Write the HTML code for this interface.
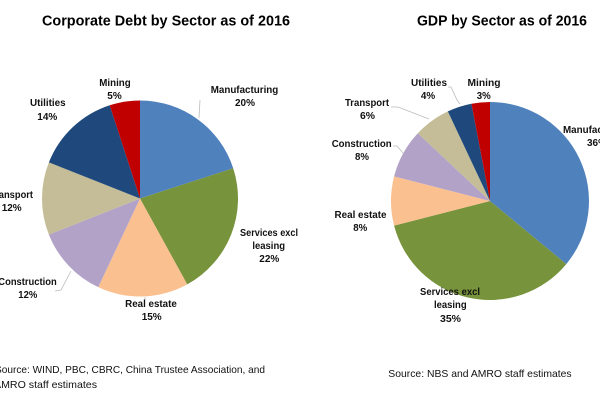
<!DOCTYPE html>
<html><head><meta charset="utf-8"><style>
html,body{margin:0;padding:0;background:#fff;}
svg{display:block;}
text{font-family:"Liberation Sans",Arial,sans-serif;fill:#111;}
.t{font-weight:bold;font-size:14.5px;fill:#000;}
.l{font-weight:bold;font-size:10px;}
.s{font-size:10.5px;}
</style></head><body>
<svg width="600" height="407" viewBox="0 0 600 407" xmlns="http://www.w3.org/2000/svg">
<rect width="600" height="407" fill="#fff"/>
<!-- Titles -->
<text class="t" x="42" y="25.5" textLength="248" lengthAdjust="spacingAndGlyphs">Corporate Debt by Sector as of 2016</text>
<text class="t" x="417" y="25.5" textLength="170" lengthAdjust="spacingAndGlyphs">GDP by Sector as of 2016</text>

<!-- Left pie -->
<g>
<path d="M140,198.5 L140,100.5 A98,98 0 0 1 233.21,168.22 Z" fill="#4F81BD"/>
<path d="M140,198.5 L233.21,168.22 A98,98 0 0 1 187.22,284.38 Z" fill="#77933C"/>
<path d="M140,198.5 L187.22,284.38 A98,98 0 0 1 98.27,287.17 Z" fill="#FAC090"/>
<path d="M140,198.5 L98.27,287.17 A98,98 0 0 1 48.88,234.57 Z" fill="#B3A2C7"/>
<path d="M140,198.5 L48.88,234.57 A98,98 0 0 1 48.88,162.43 Z" fill="#C4BD97"/>
<path d="M140,198.5 L48.88,162.43 A98,98 0 0 1 109.72,105.29 Z" fill="#1F497D"/>
<path d="M140,198.5 L109.72,105.29 A98,98 0 0 1 140,100.5 Z" fill="#C00000"/>
</g>
<polyline points="200,100 199,118" fill="none" stroke="#bbb" stroke-width="0.8"/>
<polyline points="55,291 61,290 71,271" fill="none" stroke="#bbb" stroke-width="0.8"/>
<polyline points="145,297 145,300" fill="none" stroke="#bbb" stroke-width="0.8"/>

<text class="l" x="115" y="86" text-anchor="middle" textLength="31.4" lengthAdjust="spacingAndGlyphs">Mining</text>
<text class="l" x="114.5" y="99" text-anchor="middle" textLength="14.4" lengthAdjust="spacingAndGlyphs">5%</text>
<text class="l" x="244.5" y="93" text-anchor="middle" textLength="67.6" lengthAdjust="spacingAndGlyphs">Manufacturing</text>
<text class="l" x="245" y="106" text-anchor="middle" textLength="20" lengthAdjust="spacingAndGlyphs">20%</text>
<text class="l" x="47.8" y="106" text-anchor="middle" textLength="35.7" lengthAdjust="spacingAndGlyphs">Utilities</text>
<text class="l" x="47.3" y="120" text-anchor="middle" textLength="20" lengthAdjust="spacingAndGlyphs">14%</text>
<text class="l" x="11.5" y="198" text-anchor="middle" textLength="43" lengthAdjust="spacingAndGlyphs">Transport</text>
<text class="l" x="11.7" y="211" text-anchor="middle" textLength="20" lengthAdjust="spacingAndGlyphs">12%</text>
<text class="l" x="269" y="236" text-anchor="middle" textLength="58" lengthAdjust="spacingAndGlyphs">Services excl</text>
<text class="l" x="268.7" y="249" text-anchor="middle" textLength="32.7" lengthAdjust="spacingAndGlyphs">leasing</text>
<text class="l" x="269.3" y="262" text-anchor="middle" textLength="20" lengthAdjust="spacingAndGlyphs">22%</text>
<text class="l" x="27.5" y="285" text-anchor="middle" textLength="58.4" lengthAdjust="spacingAndGlyphs">Construction</text>
<text class="l" x="27.8" y="298" text-anchor="middle" textLength="19" lengthAdjust="spacingAndGlyphs">12%</text>
<text class="l" x="151" y="307" text-anchor="middle" textLength="51.7" lengthAdjust="spacingAndGlyphs">Real estate</text>
<text class="l" x="151.7" y="320" text-anchor="middle" textLength="20" lengthAdjust="spacingAndGlyphs">15%</text>

<text class="s" x="-5" y="373" textLength="270" lengthAdjust="spacingAndGlyphs">Source: WIND, PBC, CBRC, China Trustee Association, and</text>
<text class="s" x="-6" y="388" textLength="103" lengthAdjust="spacingAndGlyphs">AMRO staff estimates</text>

<!-- Right pie -->
<g>
<path d="M490,201 L490,102 A99,99 0 0 1 566.28,264.10 Z" fill="#4F81BD"/>
<path d="M490,201 L566.28,264.10 A99,99 0 0 1 394.11,225.62 Z" fill="#77933C"/>
<path d="M490,201 L394.11,225.62 A99,99 0 0 1 394.11,176.38 Z" fill="#FAC090"/>
<path d="M490,201 L394.11,176.38 A99,99 0 0 1 417.83,133.23 Z" fill="#B3A2C7"/>
<path d="M490,201 L417.83,133.23 A99,99 0 0 1 447.85,111.43 Z" fill="#C4BD97"/>
<path d="M490,201 L447.85,111.43 A99,99 0 0 1 471.45,103.75 Z" fill="#1F497D"/>
<path d="M490,201 L471.45,103.75 A99,99 0 0 1 490,102 Z" fill="#C00000"/>
</g>
<polyline points="448,87 451,87 457,100 460,104" fill="none" stroke="#bbb" stroke-width="0.8"/>
<polyline points="391,107 398,107 429,119" fill="none" stroke="#bbb" stroke-width="0.8"/>
<polyline points="393,146 397,146 403,153" fill="none" stroke="#bbb" stroke-width="0.8"/>

<text class="l" x="429" y="86" text-anchor="middle" textLength="36" lengthAdjust="spacingAndGlyphs">Utilities</text>
<text class="l" x="428" y="99" text-anchor="middle" textLength="14.3" lengthAdjust="spacingAndGlyphs">4%</text>
<text class="l" x="484" y="86" text-anchor="middle" textLength="33" lengthAdjust="spacingAndGlyphs">Mining</text>
<text class="l" x="483.7" y="99" text-anchor="middle" textLength="14" lengthAdjust="spacingAndGlyphs">3%</text>
<text class="l" x="367" y="106" text-anchor="middle" textLength="44" lengthAdjust="spacingAndGlyphs">Transport</text>
<text class="l" x="367.5" y="119" text-anchor="middle" textLength="15" lengthAdjust="spacingAndGlyphs">6%</text>
<text class="l" x="361.7" y="147" text-anchor="middle" textLength="60" lengthAdjust="spacingAndGlyphs">Construction</text>
<text class="l" x="362" y="160" text-anchor="middle" textLength="14" lengthAdjust="spacingAndGlyphs">8%</text>
<text class="l" x="360.5" y="218" text-anchor="middle" textLength="52" lengthAdjust="spacingAndGlyphs">Real estate</text>
<text class="l" x="360.3" y="231" text-anchor="middle" textLength="14" lengthAdjust="spacingAndGlyphs">8%</text>
<text class="l" x="450" y="295" text-anchor="middle" textLength="60" lengthAdjust="spacingAndGlyphs">Services excl</text>
<text class="l" x="450.3" y="308" text-anchor="middle" textLength="32.7" lengthAdjust="spacingAndGlyphs">leasing</text>
<text class="l" x="450.5" y="322" text-anchor="middle" textLength="21" lengthAdjust="spacingAndGlyphs">35%</text>
<text class="l" x="563" y="133" textLength="67.6" lengthAdjust="spacingAndGlyphs">Manufacturing</text>
<text class="l" x="597" y="146" text-anchor="middle" textLength="20" lengthAdjust="spacingAndGlyphs">36%</text>

<text class="s" x="388.3" y="377" textLength="183.3" lengthAdjust="spacingAndGlyphs">Source: NBS and AMRO staff estimates</text>
</svg>
</body></html>
